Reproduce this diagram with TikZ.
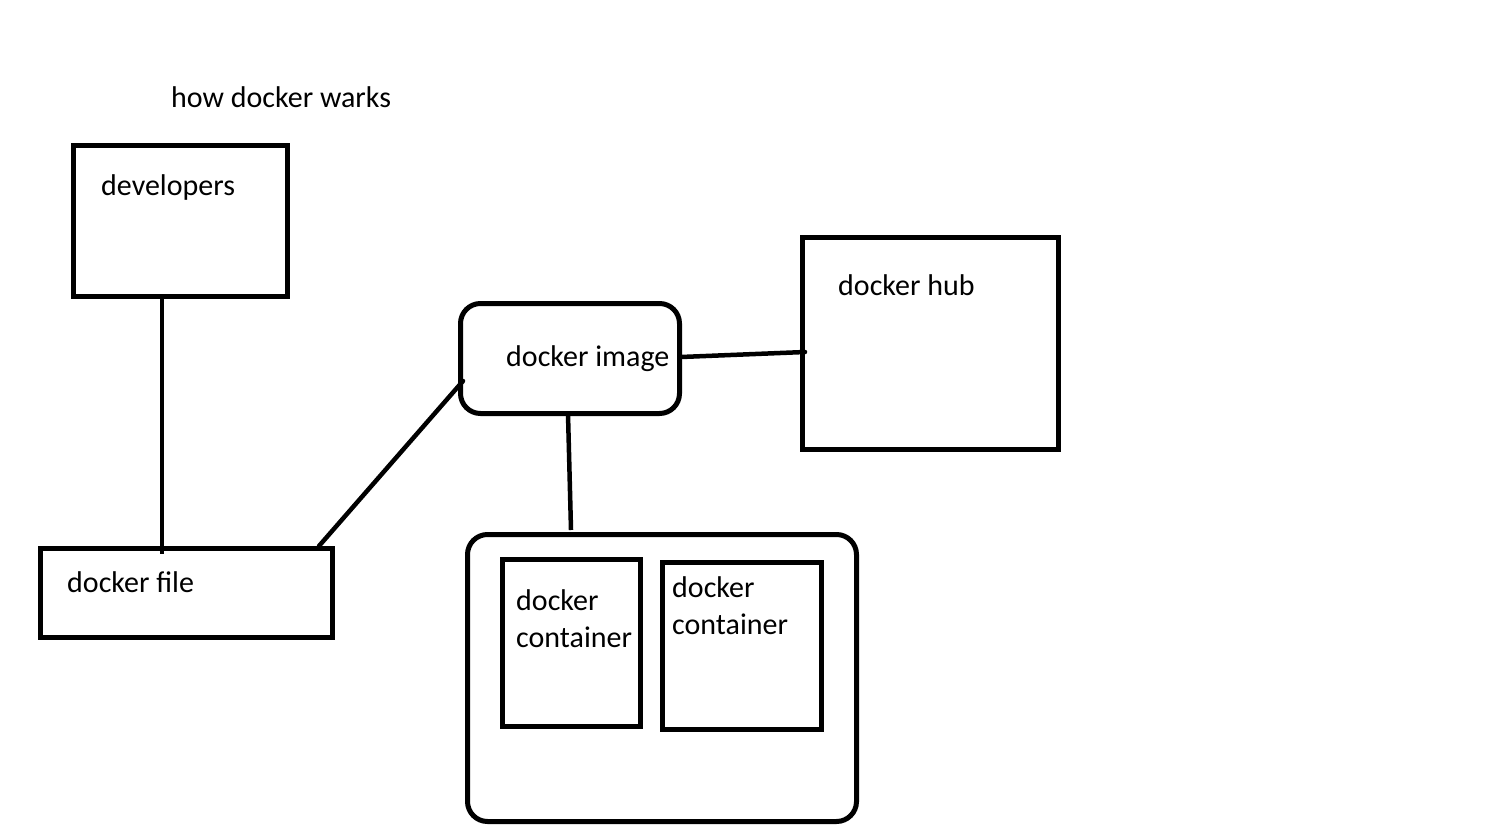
\documentclass[tikz,border=0pt]{standalone}
\usepackage{fontspec}
\setmainfont{Carlito}
\begin{document}
\begin{tikzpicture}[x=1pt,y=-1pt,
  lbl/.style={anchor=base west,inner sep=0pt,font=\fontsize{30}{36}\selectfont},
  box/.style={draw,line width=5pt,anchor=north west,inner sep=0pt,outer sep=0pt},
  conn/.style={line width=4.5pt}]
\useasboundingbox (0,0) rectangle (1506,832);
% boxes
\node[box,minimum width=214pt,minimum height=151pt] (dev) at (73.5,145.5) {};
\node[box,minimum width=292pt,minimum height=89pt] (file) at (40.5,548.5) {};
\node[box,rounded corners=20pt,minimum width=219pt,minimum height=110pt] (img) at (460.5,303.5) {};
\node[box,minimum width=256pt,minimum height=212pt] (hub) at (802.5,237.5) {};
\node[box,rounded corners=20pt,minimum width=389pt,minimum height=287pt] (host) at (467.5,534.5) {};
\node[box,minimum width=138pt,minimum height=167pt] (c1) at (502.5,559.5) {};
\node[box,minimum width=159pt,minimum height=167pt] (c2) at (662.5,562.5) {};
% texts
\node[lbl] (title) at (171,107) {how docker warks};
\node[lbl] (devt) at (101,195) {developers};
\node[lbl] (filet) at (67,592) {docker file};
\node[lbl] (imgt) at (506,366) {docker image};
\node[lbl] (hubt) at (838,295) {docker hub};
\node[lbl] (c1a) at (516,610) {docker};
\node[lbl] (c1b) at (516,647) {container};
\node[lbl] (c2a) at (672,597) {docker};
\node[lbl] (c2b) at (672,634) {container};
% connector end points
\coordinate (p1) at (162,298);
\coordinate (p2) at (162,554);
\coordinate (p3) at (319,546);
\coordinate (p4) at (463,381);
\coordinate (p5) at (681,357);
\coordinate (p6) at (805,352);
\coordinate (p7) at (568,414);
\coordinate (p8) at (571,530);
\draw[conn] (p1) -- (p2);
\draw[conn,line cap=round] (p3) -- (p4);
\draw[conn,line cap=round] (p5) -- (p6);
\draw[conn] (p7) -- (p8);
\end{tikzpicture}
\end{document}
